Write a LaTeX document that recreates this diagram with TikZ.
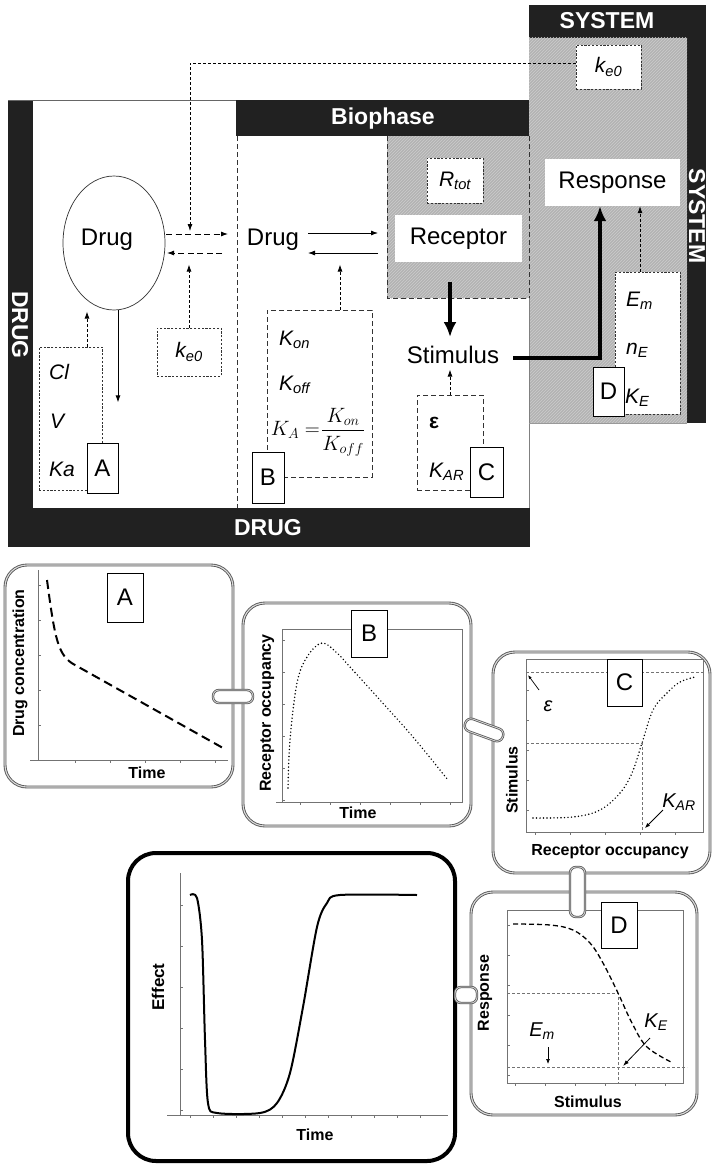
\documentclass[tikz,border=0pt]{standalone}
\usepackage{fontspec}
\setmainfont{Liberation Sans}
\usepackage{amsmath}
\usetikzlibrary{arrows.meta,patterns,shapes.geometric}

\newcommand{\fsz}[1]{\fontsize{#1}{#1}\selectfont}

\begin{document}
\begin{tikzpicture}[
    x=1pt,y=-1pt,
    band/.style={fill=black!87},
    bandtext/.style={text=white,font=\fsz{23}\bfseries,inner sep=0pt},
    word/.style={font=\fsz{24},inner sep=1pt},
    param/.style={font=\fsz{21}\itshape,inner sep=0pt,anchor=west},
    dotbox/.style={draw=black!80,line width=0.8pt,dash pattern=on 2.2pt off 1.6pt,fill=white},
    dashbox/.style={draw=black!80,line width=0.8pt,dash pattern=on 5pt off 3pt},
    letterbox/.style={draw,line width=0.8pt,fill=white,font=\fsz{24},inner sep=0pt},
    whitebox/.style={fill=white,font=\fsz{24},inner sep=0pt},
    hatched/.style={fill=black!30,postaction={pattern=north east lines,pattern color=white!80!black}},
    link/.style={line width=0.8pt,-{Latex[length=7pt,width=5pt]}},
    dlink/.style={line width=0.9pt,dash pattern=on 6pt off 3.5pt,-{Latex[length=7pt,width=5pt]}},
    flink/.style={line width=0.8pt,dash pattern=on 3pt off 2pt,-{Latex[length=7pt,width=5pt]}},
    heavy/.style={line width=4pt,-{Latex[length=15pt,width=13pt]}},
    panel/.style={draw=black!65,double=black!15,double distance=1.1pt,line width=0.9pt,rounded corners=22pt},
    pill/.style={draw=black!65,double=black!15,double distance=0.8pt,line width=0.8pt,fill=white,rounded corners=6pt,inner sep=0pt},
    axisline/.style={draw=black!55,line width=0.6pt},
    refline/.style={draw=black!55,line width=0.8pt,dash pattern=on 3pt off 2pt},
    axtitle/.style={font=\fsz{16}\bfseries,inner sep=0pt},
    plotlabel/.style={font=\fsz{20}\itshape,inner sep=0pt}
]
    \useasboundingbox (0,0) rectangle (712,1164);

    % Black frames round the drug, biophase and system regions.
    \fill[band] (8,100) rectangle (33,547);
    \fill[band] (8,508) rectangle (530,547);
    \fill[band] (236,100) rectangle (529,136);
    \fill[band] (529,5) rectangle (706,38);
    \fill[band] (687,5) rectangle (706,423);
    \draw[black!60,line width=0.6pt] (8,100) -- (236,100);

    % Hatched receptor and system areas.
    \path[hatched] (529,38) rectangle (687,423);
    \path[hatched] (387,136) rectangle (529,298);
    \draw[dashbox] (387,136) -- (387,298) -- (529,298);
    \draw[dashbox] (529,136) -- (529,298);
    \draw[black!50,line width=0.6pt] (529,298) -- (529,508);
    \draw[black!40,line width=0.6pt] (529,423) -- (687,423);
    \draw[dashbox] (237,136) -- (237,508);

    \node[bandtext] at (383,119) {Biophase};
    \node[bandtext] at (607,21) {SYSTEM};
    \node[bandtext] at (268,528) {DRUG};
    \node[bandtext,rotate=-90] at (20,325) {DRUG};
    \node[bandtext,rotate=-90] at (697,216) {SYSTEM};

    % Pharmacokinetic part.
    \node[draw=black!80,line width=0.7pt,ellipse,minimum width=102pt,minimum height=134pt] (plasma) at (114,243) {};
    \node[word] at (107,240) {Drug};
    \node[dotbox,minimum width=63pt,minimum height=143pt] (pkbox) at (70.5,418.5) {};
    \node[param] at (49,372) {Cl};
    \node[param] at (50,421) {V};
    \node[param] at (49,469) {Ka};
    \node[letterbox,minimum width=31pt,minimum height=50pt] (boxA) at (102.5,468) {A};
    \node[dotbox,minimum width=64pt,minimum height=48pt,font=\fsz{21}\itshape] (keLow) at (189,352) {k\textsubscript{e0}};
    \node[dotbox,minimum width=65pt,minimum height=44pt,font=\fsz{21}\itshape] (keTop) at (608.5,67) {k\textsubscript{e0}};

    \draw[link] ([xshift=4pt]plasma.south) -- ++(0,92);
    \draw[flink] ([xshift=16.5pt]pkbox.north) -- ++(0,-35);
    \draw[dlink] (166,234) -- (228,234);
    \draw[dlink] (222,253) -- (167,253);
    \draw[flink] (keLow.north) -- ++(0,-63);
    \coordinate (mixIn) at (190,231);
    \draw[flink] (keTop.west |- 0,63) -| (mixIn);

    % Binding part.
    \node[word] (drugB) at (273,240) {Drug};
    \node[whitebox,minimum width=127pt,minimum height=47pt] (recep) at (458.5,238.5) {Receptor};
    \node[dotbox,minimum width=56pt,minimum height=45pt,font=\fsz{21}\itshape] (rtot) at (455,180.5) {R\textsubscript{tot}};
    \draw[link] (308,233) -- (378,233);
    \draw[link] (378,253) -- (308,253);
    \node[dashbox,minimum width=105pt,minimum height=167pt] (kbox) at (319.5,393.5) {};
    \node[param] at (279,340) {K\textsubscript{on}};
    \node[param] at (279,385) {K\textsubscript{off}};
    \node[font=\fsz{22},inner sep=0pt,anchor=east] (kaLeft) at (320,430) {$K_A=$};
    \node[font=\fsz{22},inner sep=0pt,anchor=west] (kaFrac) at (321,432) {$\dfrac{K_{on}}{K_{off}}$};
    \node[letterbox,minimum width=32pt,minimum height=51pt] (boxB) at (268,477.5) {B};
    \draw[flink] ([xshift=20.5pt]kbox.north) -- ++(0,-45);

    % Transduction part.
    \node[word] (stim) at (453,355) {Stimulus};
    \draw[heavy] ([xshift=-8.5pt,yshift=-20pt]recep.south) -- (450,337);
    \node[dashbox,minimum width=66pt,minimum height=95pt] (ebox) at (450,442.5) {};
    \node[param,font=\fsz{21}\bfseries] at (429,423) {ε};
    \node[param] at (429,472) {K\textsubscript{AR}};
    \node[letterbox,minimum width=33pt,minimum height=50pt] (boxC) at (486.5,472) {C};
    \draw[flink] (ebox.north) -- ++(0,-25);

    % Response part.
    \node[whitebox,minimum width=135pt,minimum height=47pt] (resp) at (612.5,182.5) {Response};
    \node[dotbox,minimum width=65pt,minimum height=142pt] (embox) at (647.5,343) {};
    \node[param] at (626,301) {E\textsubscript{m}};
    \node[param] at (626,350) {n\textsubscript{E}};
    \node[param] at (625,398) {K\textsubscript{E}};
    \node[letterbox,minimum width=31pt,minimum height=49pt] (boxD) at (608.5,391.5) {D};
    \draw[flink] ([xshift=-7.5pt]embox.north) -- (resp.south -| 640,0);
    \coordinate (stimOut) at (513,358);
    \draw[heavy,line join=miter] (stimOut) -| ([xshift=-12.5pt]resp.south);

    % Panel A: drug concentration.
    \draw[panel] (5,565) rectangle (233,787);
    \draw[axisline] (38,570) -- (38,760) (30,760) -- (228,760);
    \foreach \t in {585,620,...,750} \draw[axisline] (38,\t) -- (41,\t);
    \foreach \t in {75,110,...,220} \draw[axisline] (\t,760) -- (\t,763);
    \draw[line width=2pt,dash pattern=on 9pt off 5pt] (47,580) .. controls (55,640) and (58,656) .. (75,665) -- (223,748);
    \node[letterbox,minimum width=36pt,minimum height=49pt] at (125,597.5) {A};
    \node[axtitle,rotate=90] at (20,663) {Drug concentration};
    \node[axtitle] at (147,773) {Time};

    % Panel B: receptor occupancy.
    \draw[panel] (243,603) rectangle (471,826);
    \draw[axisline] (282,629) rectangle (462,802);
    \draw[axisline] (276,802) -- (282,802);
    \foreach \t in {640,672,...,800} \draw[axisline] (282,\t) -- (285,\t);
    \foreach \t in {300,330,...,460} \draw[axisline] (\t,802) -- (\t,805);
    \draw[line width=1.6pt,dash pattern=on 0pt off 3.5pt,line cap=round] plot[smooth,tension=0.6] coordinates {(288,788) (290,740) (297,683) (307,657) (322,643) (337,653) (350,667) (380,700) (413,737) (448,780)};
    \node[letterbox,minimum width=36pt,minimum height=47pt] at (369,633.5) {B};
    \node[axtitle,rotate=90] at (267,713) {Receptor occupancy};
    \node[axtitle] at (358,813) {Time};

    % Panel C: stimulus.
    \draw[panel] (493,652) rectangle (710,873);
    \draw[axisline] (526,659) rectangle (703,832);
    \foreach \t in {690,720,...,830} \draw[axisline] (526,\t) -- (529,\t);
    \foreach \t in {535,570,...,700} \draw[axisline] (\t,832) -- (\t,835);
    \draw[refline] (526,672) -- (703,672) (526,743) -- (642,743) -- (642,832);
    \draw[line width=1.6pt,dash pattern=on 0pt off 3.5pt,line cap=round] plot[smooth,tension=0.6] coordinates {(533,818) (573,817) (600,810) (620,793) (632,773) (642,743) (653,710) (667,693) (680,682) (695,677)};
    \node[letterbox,minimum width=35pt,minimum height=47pt] at (624.5,682.5) {C};
    \node[plotlabel] (epsC) at (548,706) {ε};
    \draw[line width=0.7pt,-{Latex[length=4pt,width=3pt]}] (539,690) -- (528,675);
    \node[plotlabel] (kar) at (679,802) {K\textsubscript{AR}};
    \draw[line width=0.8pt,-{Latex[length=5pt,width=4pt]}] (663,810) -- (645,828);
    \node[axtitle,rotate=90] at (512,780) {Stimulus};
    \node[axtitle] at (610,852) {Receptor occupancy};

    % Panel D: response.
    \draw[panel] (471,892) rectangle (697,1115);
    \draw[axisline] (507,910) rectangle (683,1083);
    \foreach \t in {925,955,...,1080} \draw[axisline] (507,\t) -- (510,\t);
    \foreach \t in {515,545,...,680} \draw[axisline] (\t,1083) -- (\t,1086);
    \draw[refline] (507,993) -- (618,993) -- (618,1083) (507,1067) -- (687,1067);
    \draw[line width=1.3pt,dash pattern=on 5pt off 3pt] plot[smooth,tension=0.6] coordinates {(513,924) (550,925) (573,930) (590,943) (603,963) (618,993) (632,1023) (647,1047) (673,1063)};
    \node[letterbox,minimum width=36pt,minimum height=46pt] at (619,925) {D};
    \node[plotlabel] (emD) at (542,1031) {E\textsubscript{m}};
    \draw[line width=0.7pt,-{Latex[length=5pt,width=4pt]}] (548,1047) -- (548,1064);
    \node[plotlabel] (keD) at (656,1022) {K\textsubscript{E}};
    \draw[line width=0.8pt,-{Latex[length=6pt,width=4pt]}] (650,1038) -- (623,1066);
    \node[axtitle,rotate=90] at (485,993) {Response};
    \node[axtitle] at (588,1102) {Stimulus};

    % Panel E: effect over time.
    \draw[line width=4pt,rounded corners=28pt] (128,853) rectangle (455,1161);
    \draw[axisline] (180,873) -- (180,1115) (167,1115) -- (448,1115);
    \foreach \t in {905,946,...,1110} \draw[axisline] (180,\t) -- (183,\t);
    \foreach \t in {190,213,...,440} \draw[axisline] (\t,1115) -- (\t,1118);
    \draw[line width=2pt,line join=round] plot[smooth,tension=0.5] coordinates {(190,895) (197,898) (202,940) (205,1040) (208,1103) (217,1113) (260,1113) (277,1103) (290,1073) (303,1007) (317,927) (327,903) (340,895) (417,895)};
    \node[axtitle,font=\fsz{17}\bfseries,rotate=90] at (158,987) {Effect};
    \node[axtitle] at (315,1135) {Time};

    % Links between the panels.
    \node[pill,minimum width=40pt,minimum height=13pt] (pillAB) at (233,696.5) {};
    \node[pill,rotate=-20,minimum width=40pt,minimum height=13pt] (pillBC) at (484,730) {};
    \node[pill,minimum width=15pt,minimum height=50pt] (pillCD) at (577.5,892) {};
    \node[pill,minimum width=22pt,minimum height=16pt] (pillDE) at (466,995) {};
\end{tikzpicture}
\end{document}
